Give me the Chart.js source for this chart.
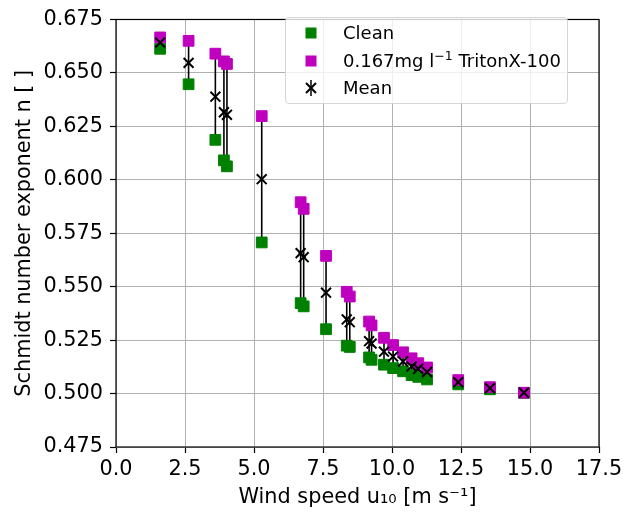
<!DOCTYPE html>
<html><head><meta charset="utf-8">
<script src="https://cdn.jsdelivr.net/npm/chart.js@4.4.0/dist/chart.umd.min.js"></script>
<style>
html,body{margin:0;padding:0;background:#fff;}
#wrap{position:relative;width:635px;height:512px;}
#legend{position:absolute;left:285px;top:17px;width:283px;height:87px;box-sizing:border-box;border:1px solid #d6d6d6;border-radius:4px;background:rgba(255,255,255,0.8);font-family:"DejaVu Sans";font-size:18px;color:#000;}
.item{position:absolute;left:0;height:28px;width:100%;}
.mk{position:absolute;left:15px;top:4px;width:20px;height:20px;}
.lb{position:absolute;left:57px;top:0;line-height:28px;white-space:nowrap;}
sup{font-size:12.5px;vertical-align:7px;line-height:0;}
</style>
</head><body>
<div id="wrap">
<canvas id="c" width="635" height="512"></canvas>
<div id="legend">
  <div class="item" style="top:1px"><svg class="mk" viewBox="0 0 20 20"><rect x="4.5" y="4.5" width="11" height="11" fill="#008000"/></svg><span class="lb">Clean</span></div>
  <div class="item" style="top:29px"><svg class="mk" viewBox="0 0 20 20"><rect x="4.5" y="4.5" width="11" height="11" fill="#bf00bf"/></svg><span class="lb">0.167mg l<sup>−1</sup> TritonX-100</span></div>
  <div class="item" style="top:56px"><svg class="mk" viewBox="0 0 20 20"><line x1="10" y1="2" x2="10" y2="18" stroke="#000" stroke-width="1.5"/><line x1="5" y1="5" x2="15" y2="15" stroke="#000" stroke-width="2"/><line x1="15" y1="5" x2="5" y2="15" stroke="#000" stroke-width="2"/></svg><span class="lb">Mean</span></div>
</div>
</div>
<script>
const windSpeed = [1.60, 2.63, 3.60, 3.91, 4.02, 5.28, 6.69, 6.80, 7.61, 8.36, 8.47, 9.17, 9.26, 9.71, 10.04, 10.40, 10.71, 10.95, 11.27, 12.40, 13.55, 14.78];
const clean = [0.6613, 0.6447, 0.6187, 0.6091, 0.6063, 0.5707, 0.5423, 0.5408, 0.5301, 0.5224, 0.5218, 0.5169, 0.5158, 0.5135, 0.5119, 0.5104, 0.5086, 0.5078, 0.5066, 0.5043, 0.5020, 0.5003];
const triton = [0.6666, 0.6650, 0.6590, 0.6554, 0.6542, 0.6298, 0.5895, 0.5864, 0.5644, 0.5476, 0.5454, 0.5337, 0.5319, 0.5261, 0.5227, 0.5193, 0.5165, 0.5142, 0.5122, 0.5063, 0.5030, 0.5004];
const meanVals = [0.6642, 0.6547, 0.6389, 0.6316, 0.6304, 0.6003, 0.5657, 0.5638, 0.5472, 0.5347, 0.5334, 0.5245, 0.5234, 0.5196, 0.5173, 0.5150, 0.5127, 0.5116, 0.5101, 0.5053, 0.5025, 0.5004];
const xTicks = [0, 2.5, 5, 7.5, 10, 12.5, 15, 17.5];
const xTickLabels = ["0.0", "2.5", "5.0", "7.5", "10.0", "12.5", "15.0", "17.5"];
const yTicks = [0.475, 0.5, 0.525, 0.55, 0.575, 0.6, 0.625, 0.65, 0.675];
const yTickLabels = ["0.475", "0.500", "0.525", "0.550", "0.575", "0.600", "0.625", "0.650", "0.675"];

const pts = (ys) => windSpeed.map((x, i) => ({x: x, y: ys[i]}));
const rangeLines = [];
windSpeed.forEach((x, i) => { rangeLines.push({x: x, y: clean[i]}, {x: x, y: triton[i]}, {x: x, y: null}); });

const FONT = {family: "DejaVu Sans", size: 20.8};

const framePlugin = {
  id: 'frame',
  afterDatasetsDraw(chart) {
    const a = chart.chartArea, ctx = chart.ctx;
    ctx.save();
    ctx.strokeStyle = '#000';
    ctx.lineWidth = 1.2;
    ctx.strokeRect(a.left, a.top, a.right - a.left, a.bottom - a.top);
    ctx.restore();
  }
};

new Chart(document.getElementById('c'), {
  type: 'scatter',
  data: {
    datasets: [
      {label: 'Mean', data: pts(meanVals), pointStyle: 'crossRot', pointRadius: 7, borderColor: '#000', borderWidth: 2, backgroundColor: '#000', order: 0},
      {label: '0.167mg l⁻¹ TritonX-100', data: pts(triton), pointStyle: 'rect', pointRadius: 7.6, backgroundColor: '#bf00bf', borderColor: '#bf00bf', borderWidth: 1, order: 1},
      {label: 'Clean', data: pts(clean), pointStyle: 'rect', pointRadius: 7.6, backgroundColor: '#008000', borderColor: '#008000', borderWidth: 1, order: 2},
      {label: 'range', data: rangeLines, showLine: true, spanGaps: false, pointRadius: 0, borderColor: '#000', borderWidth: 1.6, order: 3}
    ]
  },
  options: {
    responsive: false,
    animation: false,
    events: [],
    layout: {padding: {top: 12, right: 36, left: 0, bottom: 0}},
    plugins: {legend: {display: false}, tooltip: {enabled: false}},
    scales: {
      x: {
        type: 'linear', min: 0, max: 17.5,
        afterFit: s => { s.height = 65; },
        afterBuildTicks: s => { s.ticks = xTicks.map(v => ({value: v})); },
        ticks: {callback: (v, i) => xTickLabels[i], font: FONT, color: '#000', padding: 4, maxRotation: 0, autoSkip: false},
        grid: {color: '#b0b0b0', lineWidth: 1, tickColor: '#000', tickLength: 6, tickWidth: 1.2},
        border: {display: false},
        title: {display: true, text: 'Wind speed u₁₀ [m s⁻¹]', font: FONT, color: '#000', padding: {top: 0, bottom: 1.5}}
      },
      y: {
        type: 'linear', min: 0.475, max: 0.675,
        afterFit: s => { s.width = 116; },
        afterBuildTicks: s => { s.ticks = yTicks.map(v => ({value: v})); },
        ticks: {callback: (v, i) => yTickLabels[i], font: FONT, color: '#000', padding: 7, autoSkip: false},
        grid: {color: '#b0b0b0', lineWidth: 1, tickColor: '#000', tickLength: 6, tickWidth: 1.2},
        border: {display: false},
        title: {display: true, text: 'Schmidt number exponent n [ ]', font: FONT, color: '#000', padding: {top: 12, bottom: 0}}
      }
    }
  },
  plugins: [framePlugin]
});
</script>
</body></html>
